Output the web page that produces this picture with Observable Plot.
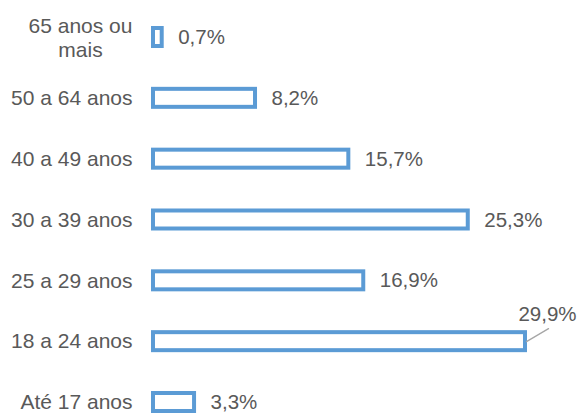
<!DOCTYPE html>
<html>
<head>
<meta charset="utf-8">
<script src="https://cdn.jsdelivr.net/npm/d3@7"></script>
<script src="https://cdn.jsdelivr.net/npm/@observablehq/plot@0.6"></script>
<style>
  html, body { margin: 0; padding: 0; background: #fff; }
  #chart { width: 580px; height: 415px; }
</style>
</head>
<body>
<div id="chart"></div>
<script>
const categories = ["65 anos ou mais", "50 a 64 anos", "40 a 49 anos", "30 a 39 anos", "25 a 29 anos", "18 a 24 anos", "Até 17 anos"];
const values = [0.7, 8.2, 15.7, 25.3, 16.9, 29.9, 3.3];
const valueLabels = ["0,7%", "8,2%", "15,7%", "25,3%", "16,9%", "29,9%", "3,3%"];
const calloutCategory = "18 a 24 anos";

const data = categories.map((c, i) => ({cat: c, value: values[i], label: valueLabels[i]}));
const wrap = c => c.replace(" ou mais", " ou\nmais");
const isWrapped = c => wrap(c) !== c;

const font = "'Liberation Sans', Arial, Helvetica, sans-serif";
const textColor = "#595959";
const barColor = "#5B9BD5";

const chart = Plot.plot({
  width: 580,
  height: 415,
  marginLeft: 153,
  marginRight: 4,
  marginTop: 28,
  marginBottom: 4,
  style: {fontFamily: font, background: "#fff"},
  x: {domain: [0, 34], axis: null},
  y: {domain: categories, axis: null, paddingInner: 0.704, paddingOuter: 0, round: false},
  marks: [
    Plot.barX(data, {x: "value", y: "cat", fill: "#fff", stroke: barColor, strokeWidth: 4}),
    // value labels
    Plot.text(data.filter(d => d.cat !== calloutCategory), {
      x: "value", y: "cat", text: "label", dx: 16, textAnchor: "start",
      fill: textColor, fontSize: 20.5
    }),
    // callout label with leader line
    Plot.vector(data.filter(d => d.cat === calloutCategory), {
      x: "value", y: "cat", dx: 1, length: 25.6, rotate: 59.4, anchor: "start",
      stroke: "#a6a6a6", strokeWidth: 1.3,
      shape: {draw(ctx, l) { ctx.moveTo(0, 0); ctx.lineTo(0, -l); }}
    }),
    Plot.text(data.filter(d => d.cat === calloutCategory), {
      x: "value", y: "cat", text: "label", dx: 22, dy: -27, textAnchor: "middle",
      fill: textColor, fontSize: 20.5
    }),
    // category labels
    Plot.text(categories.filter(c => !isWrapped(c)), {
      y: d => d, text: d => d, frameAnchor: "left", dx: -21, textAnchor: "end",
      fill: textColor, fontSize: 21
    }),
    Plot.text(categories.filter(c => isWrapped(c)), {
      y: d => d, text: d => wrap(d), frameAnchor: "left", dx: -73, textAnchor: "middle",
      fill: textColor, fontSize: 21, lineHeight: 1.15
    })
  ]
});
document.getElementById("chart").appendChild(chart);
</script>
</body>
</html>
